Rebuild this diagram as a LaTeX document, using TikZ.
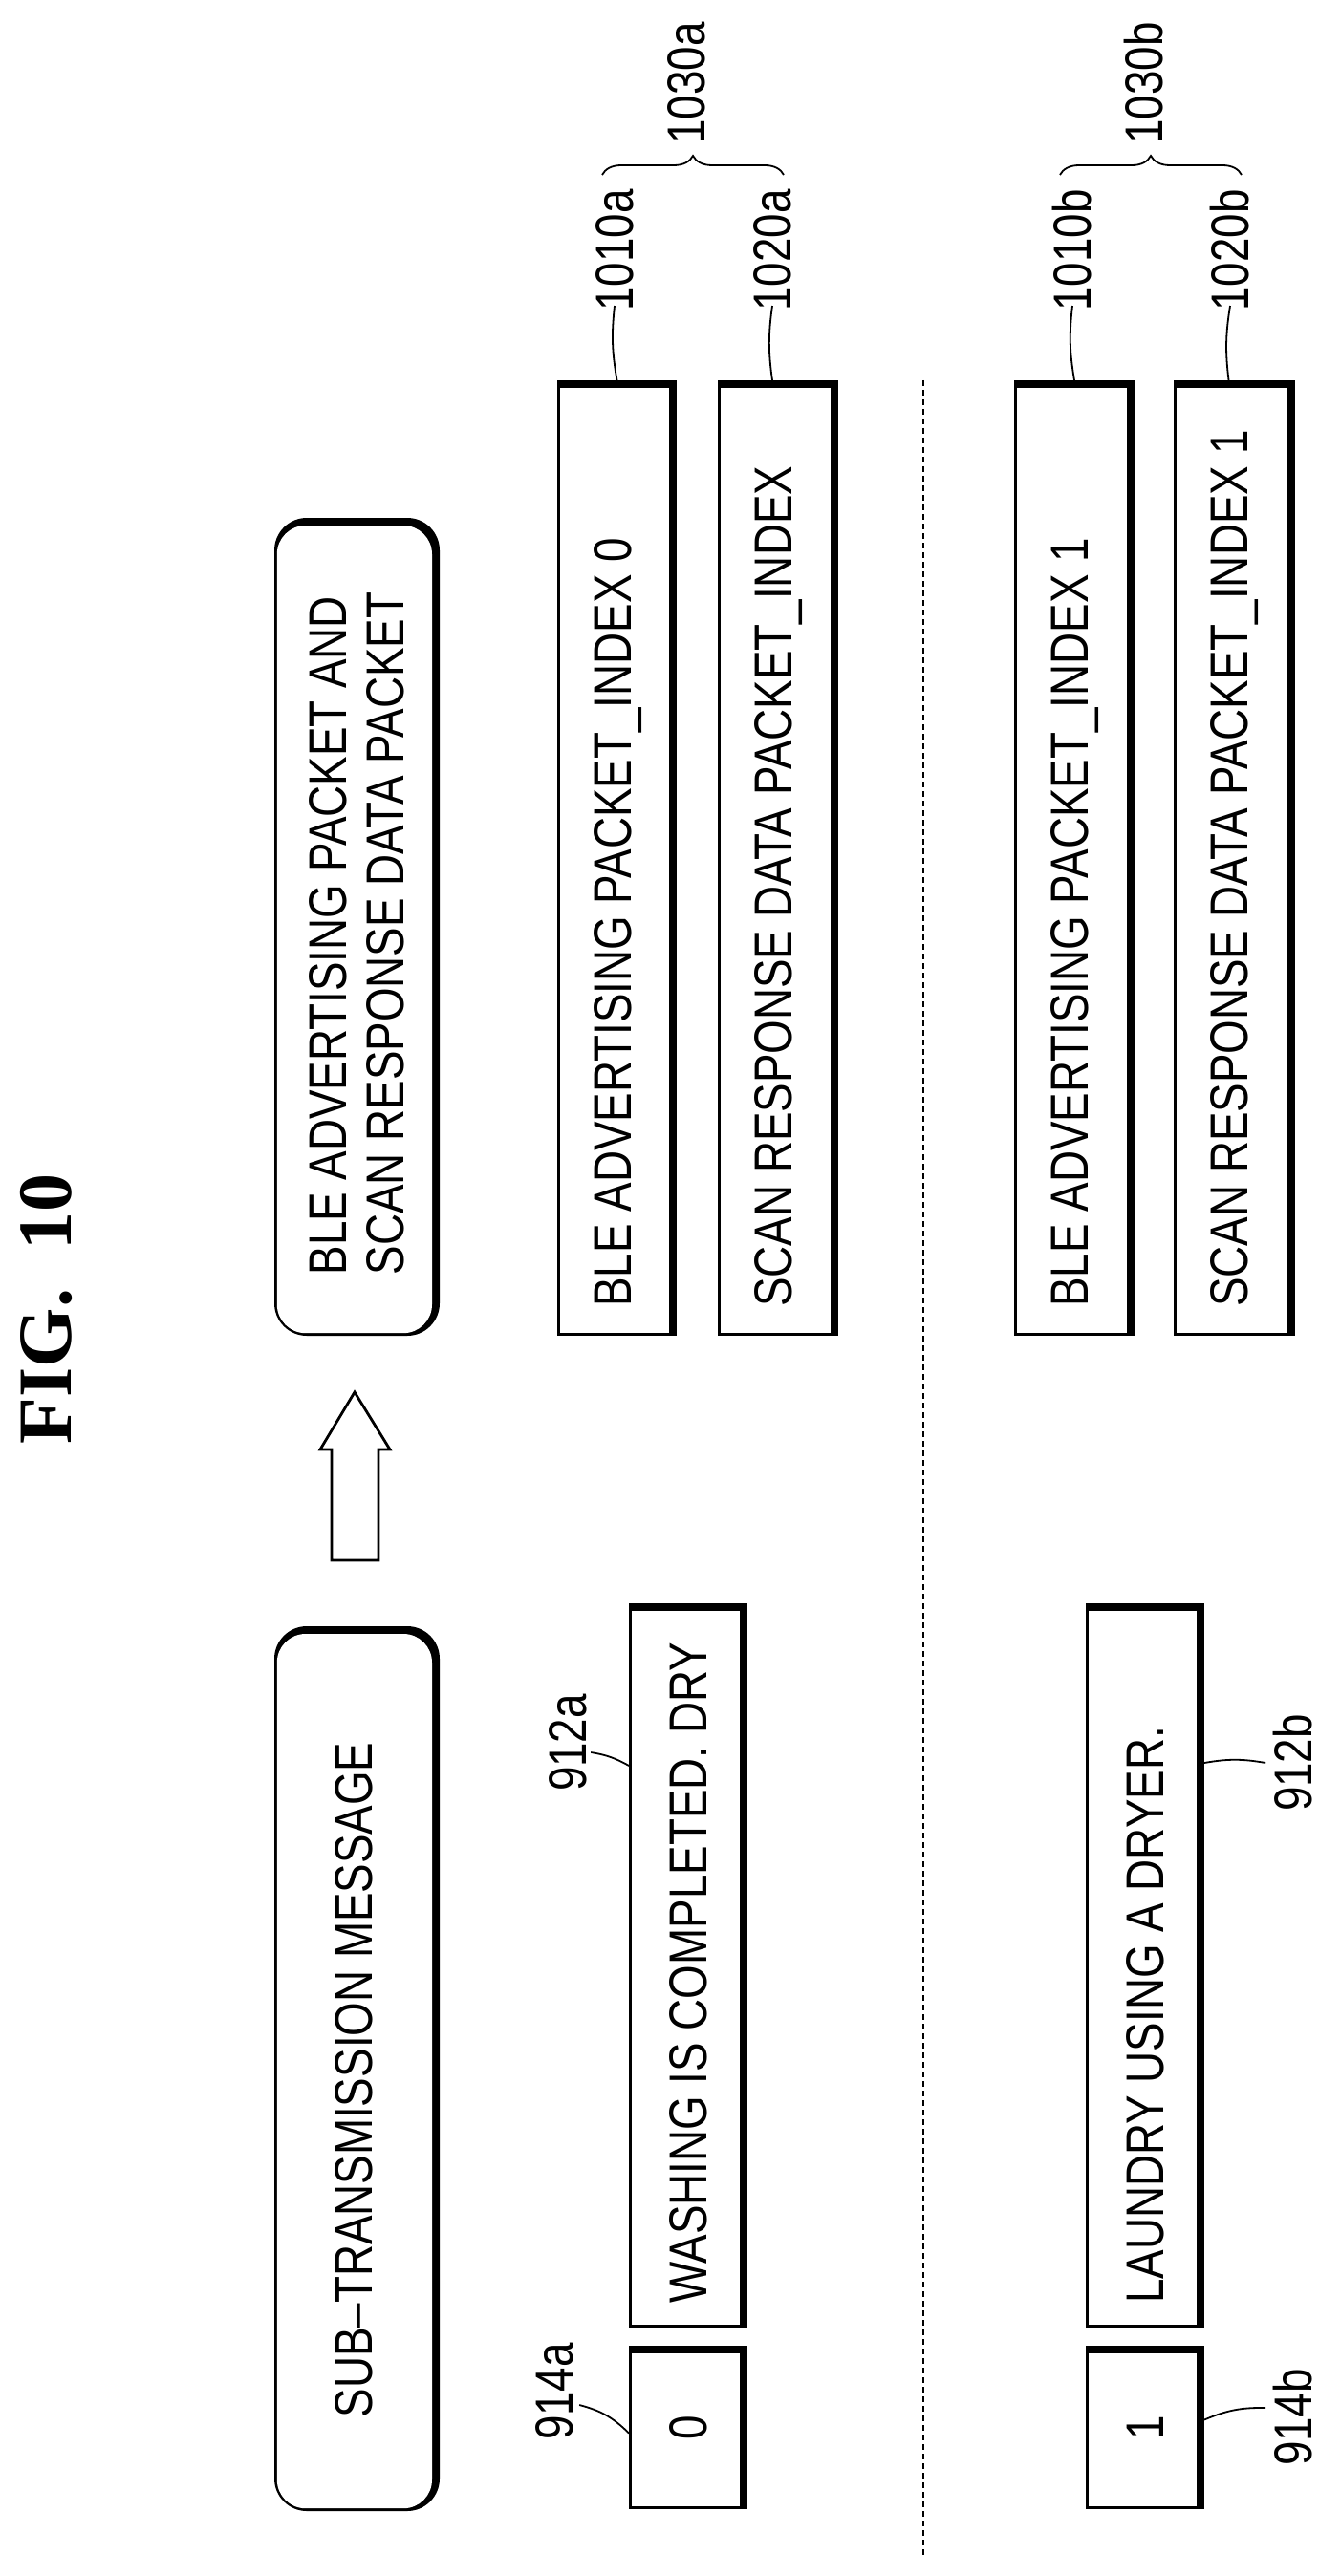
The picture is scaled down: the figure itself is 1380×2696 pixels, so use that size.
\documentclass[tikz,border=0pt]{standalone}
\usepackage{fontspec}
\setmainfont{Liberation Sans}[FakeStretch=0.82]
\newfontfamily\figfont{Liberation Serif}
\usetikzlibrary{decorations.pathreplacing,calc}
\begin{document}
\begin{tikzpicture}[x=0.5pt,y=-0.5pt,
  box/.style n args={2}{rectangle, inner sep=0, outer sep=0,
    minimum width=#1*0.5pt, minimum height=#2*0.5pt, fill=black,
    path picture={\fill[white] ([shift={(1.4pt,1.4pt)}]path picture bounding box.south west)
      rectangle ([shift={(-4pt,-4pt)}]path picture bounding box.north east);}},
  rbox/.style n args={2}{rectangle, rounded corners=17pt, inner sep=0, outer sep=0,
    minimum width=#1*0.5pt, minimum height=#2*0.5pt, fill=black,
    path picture={\fill[white, rounded corners=15pt] ([shift={(1.4pt,1.4pt)}]path picture bounding box.south west)
      rectangle ([shift={(-4pt,-4pt)}]path picture bounding box.north east);}},
  txt/.style={rotate=90, inner sep=0, font=\fontsize{27.9}{30}\selectfont},
  lbl/.style={rotate=90, inner sep=0, font=\fontsize{27.9}{30}\selectfont},
  lead/.style={line width=0.9pt},
  brc/.style={line width=0.9pt, decorate, decoration={brace, amplitude=10pt}}
]
\useasboundingbox[fill=white] (0,0) rectangle (1380,2696);

% title
\node[rotate=90, inner sep=0, font=\figfont\bfseries\fontsize{40}{44}\selectfont] (fig) at (48,1370) {FIG.~~10};

% rounded boxes
\node[rbox={173}{856}] (top) at (373.5,970) {};
\node[txt, align=left, font=\fontsize{27.9}{30}\selectfont] (toptxt) at (373.5,977) {BLE ADVERTISING PACKET AND\\SCAN RESPONSE DATA PACKET};
\node[rbox={173}{926}] (sub) at (373.5,2165) {};
\node[txt] (subtxt) at (370,2177) {SUB–TRANSMISSION MESSAGE};

% block arrow
\draw[line width=1.4pt, line join=miter] (347,1633) -- (347,1517) -- (335,1517) -- (371,1457)
  -- (408,1517) -- (396,1517) -- (396,1633) -- cycle;

% packet boxes
\node[box={125}{1000}] (b1) at (645.5,898) {};
\node[box={126}{1000}] (b2) at (814,898) {};
\node[box={126}{1000}] (b3) at (1124,898) {};
\node[box={127}{1000}] (b4) at (1291.5,898) {};
\node[txt, anchor=west] (t1) at (647,1368) {BLE ADVERTISING PACKET\_INDEX 0};
\node[txt, anchor=west] (t2) at (815,1368) {SCAN RESPONSE DATA PACKET\_INDEX};
\node[txt, anchor=west] (t3) at (1125,1368) {BLE ADVERTISING PACKET\_INDEX 1};
\node[txt, anchor=west] (t4) at (1292,1368) {SCAN RESPONSE DATA PACKET\_INDEX 1};

% message boxes
\node[box={124}{758}] (m1) at (720,2057) {};
\node[box={124}{171}] (i1) at (720,2540.5) {};
\node[box={124}{758}] (m2) at (1198,2057) {};
\node[box={124}{171}] (i2) at (1198,2540.5) {};
\node[txt, anchor=west] (mt1) at (720,2411) {WASHING IS COMPLETED. DRY};
\node[txt, anchor=west] (mt2) at (1198,2411) {LAUNDRY USING A DRYER.};
\node[txt] (it1) at (720,2540.5) {0};
\node[txt] (it2) at (1198,2540.5) {1};

% separator
\coordinate (s1) at (966,398);
\coordinate (s2) at (966,2674);
\draw[line width=0.8pt, dash pattern=on 3pt off 2pt] (s1) -- (s2);

% reference labels (top)
\node[lbl] (l1010a) at (643,262) {1010a};
\node[lbl] (l1020a) at (808,262) {1020a};
\node[lbl] (l1030a) at (718,87) {1030a};
\node[lbl] (l1010b) at (1122,262) {1010b};
\node[lbl] (l1020b) at (1287,262) {1020b};
\node[lbl] (l1030b) at (1197,87) {1030b};
\draw[lead] (b1.north) to[bend left=8] ($(l1010a.west)+(0,-6)$);
\draw[lead] ($(b2.north)+(-6,0)$) to[bend left=8] ($(l1020a.west)+(0,-6)$);
\draw[lead] (b3.north) to[bend left=8] ($(l1010b.west)+(0,-6)$);
\draw[lead] ($(b4.north)+(-6,0)$) to[bend left=8] ($(l1020b.west)+(0,-6)$);
\coordinate (ba1) at (630,183);
\coordinate (ba2) at (820,183);
\coordinate (bb1) at (1109,183);
\coordinate (bb2) at (1299,183);
\draw[brc] (ba1) -- (ba2);
\draw[brc] (bb1) -- (bb2);

% reference labels (bottom)
\node[lbl] (l912a) at (594,1824) {912a};
\node[lbl] (l914a) at (580,2503) {914a};
\node[lbl] (l912b) at (1353,1845) {912b};
\node[lbl] (l914b) at (1353,2530) {914b};
\draw[lead] ($(l912a.south)+(4,10)$) to[bend left=10] ($(m1.west)+(0,-209)$);
\draw[lead] ($(l914a.south)+(6,14)$) to[bend left=15] ($(i1.west)+(0,6)$);
\draw[lead] ($(m2.east)+(0,-212)$) to[bend left=10] ($(l912b.north)+(-8,0)$);
\draw[lead] ($(i2.east)+(0,-8)$) to[bend left=12] ($(l914b.north)+(-8,-10)$);
\end{tikzpicture}
\end{document}
